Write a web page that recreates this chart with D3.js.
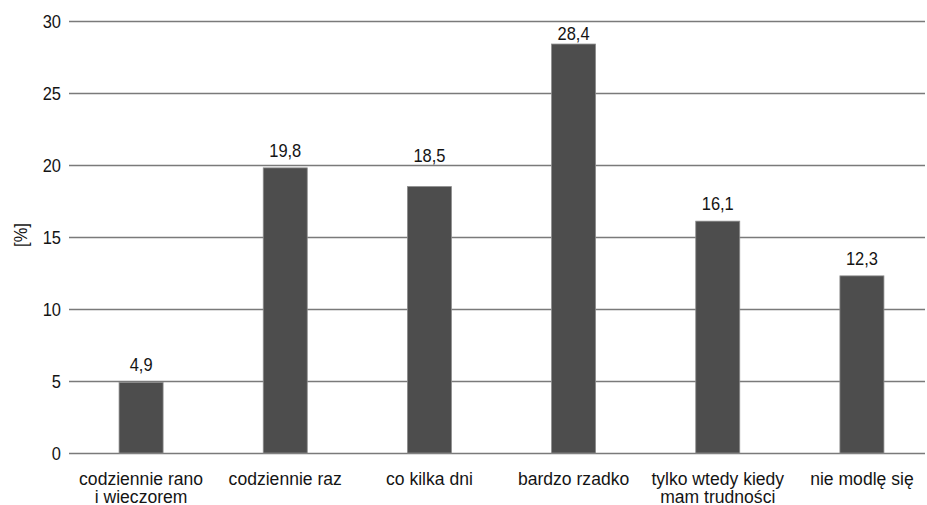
<!DOCTYPE html>
<html><head><meta charset="utf-8">
<script src="https://cdn.jsdelivr.net/npm/d3@7"></script>
<style>
body{margin:0;background:#fff;}
text{font-family:"Liberation Sans Narrow","Arial Narrow","Liberation Sans",sans-serif;fill:#141414;}
</style></head><body>
<svg id="c" width="927" height="505"></svg>
<script>
const categories = [["codziennie rano","i wieczorem"],["codziennie raz"],["co kilka dni"],["bardzo rzadko"],["tylko wtedy kiedy","mam trudności"],["nie modlę się"]];
const values = [4.9, 19.8, 18.5, 28.4, 16.1, 12.3];
const valueLabels = ["4,9","19,8","18,5","28,4","16,1","12,3"];
const yTicks = [0,5,10,15,20,25,30];
const yLabel = "[%]";

const svg = d3.select("#c");
const mLeft = 69, gridRight = 925, mTop = 21, mBottom = 453;
const x = d3.scaleBand().domain(d3.range(categories.length)).range([mLeft, 934]).padding(0);
const y = d3.scaleLinear().domain([0,30]).range([mBottom, mTop]);
const barW = 44;
const FS = 18.5, numSX = 0.89, lblSX = 0.95;

function sText(g, tx, ty, sx, anchor){
  return g.append("text").attr("transform",`translate(${tx},${ty}) scale(${sx},1)`)
    .attr("text-anchor",anchor).attr("font-size",FS);
}

svg.append("g").selectAll("line").data(yTicks).join("line")
  .attr("x1", mLeft).attr("x2", gridRight)
  .attr("y1", d=>y(d)+0.5).attr("y2", d=>y(d)+0.5)
  .attr("stroke", "#7a7a7a").attr("stroke-width", 1.3);

const gy = svg.append("g");
yTicks.forEach(t => sText(gy, 61, y(t)+6.5, numSX, "end").text(t));

svg.append("g").selectAll("rect").data(values).join("rect")
  .attr("x",(d,i)=>x(i)+x.bandwidth()/2-barW/2)
  .attr("width",barW)
  .attr("y",d=>y(d)).attr("height",d=>y(0)-y(d))
  .attr("fill","#4d4d4d").attr("stroke","#8c8c8c").attr("stroke-width",0.8);

// value labels: default 11px above the bar; nudged off a gridline if they would cross it
const gv = svg.append("g");
const capH = 13.5;
values.forEach((v,i)=>{
  let base = y(v) - 11;
  yTicks.forEach(t=>{
    const gl = y(t);
    if (gl > base - capH - 1 && gl < base + 1) {
      base = (gl - capH - 4 > 0 && gl - 3.5 - capH > 5) ? gl - 3.5 : y(v) - 4.5;
    }
  });
  sText(gv, x(i)+x.bandwidth()/2, base, numSX, "middle").text(valueLabels[i]);
});

const gx = svg.append("g");
categories.forEach((lines,i)=>{
  const t = sText(gx, x(i)+x.bandwidth()/2, 485, lblSX, "middle");
  lines.forEach((line,j)=>{
    t.append("tspan").attr("x",0).attr("dy", j===0?0:18.5).text(line);
  });
});

svg.append("text")
  .attr("transform",`translate(27,235) rotate(-90) scale(0.89,1)`)
  .attr("text-anchor","middle").attr("font-size",FS).text(yLabel);
</script>
</body></html>
